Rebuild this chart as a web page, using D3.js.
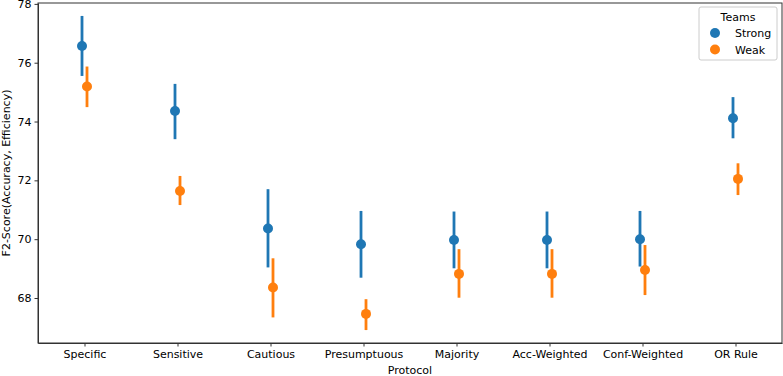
<!DOCTYPE html>
<html>
<head>
<meta charset="utf-8">
</head>
<body style="margin:0;background:#fff">
<style>
    text { font-family: "DejaVu Sans", sans-serif; fill: #000; }
    .axis path, .axis line { stroke: #333; stroke-width: 1px; }
    .axis text { font-size: 11px; }
</style>
<script src="https://cdn.jsdelivr.net/npm/d3@7"></script>
<script>

    var protocols = ["Specific", "Sensitive", "Cautious", "Presumptuous", "Majority", "Acc-Weighted", "Conf-Weighted", "OR Rule"];
    var teams = ["Strong", "Weak"];

    // point estimates and error-bar ends
    var strongMean = [76.57, 74.36, 70.36, 69.83, 69.97, 69.97, 70.00, 74.11];
    var strongLow  = [75.55, 73.40, 69.04, 68.69, 69.01, 69.01, 69.07, 73.43];
    var strongHigh = [77.59, 75.28, 71.70, 70.96, 70.94, 70.94, 70.96, 74.83];

    var weakMean = [75.19, 71.64, 68.36, 67.46, 68.82, 68.82, 68.95, 72.05];
    var weakLow  = [74.49, 71.16, 67.34, 66.91, 68.01, 68.01, 68.10, 71.50];
    var weakHigh = [75.87, 72.15, 69.35, 67.96, 69.66, 69.66, 69.80, 72.58];

    var yTicks = [68, 70, 72, 74, 76, 78];
    var colors = ["#1f77b4", "#ff7f0e"];

    var width = 783, height = 376;
    var margin = {top: 3, right: 1, bottom: 33, left: 38};

    var svg = d3.select("body").append("svg")
        .attr("width", width)
        .attr("height", height);

    var x = d3.scalePoint()
        .domain(protocols)
        .range([margin.left, width - margin.right])
        .padding(0.5);

    var y = d3.scaleLinear()
        .domain([66.47, 78.03])
        .range([height - margin.bottom, margin.top]);

    var dodge = d3.scalePoint().domain(teams).range([-2.5, 2.5]);
    var color = d3.scaleOrdinal().domain(teams).range(colors);

    var series = [
        {team: "Strong", mean: strongMean, low: strongLow, high: strongHigh},
        {team: "Weak", mean: weakMean, low: weakLow, high: weakHigh}
    ];

    series.forEach(function (s) {
        var pts = protocols.map(function (p, i) {
            return {p: p, m: s.mean[i], lo: s.low[i], hi: s.high[i]};
        });
        var g = svg.append("g").attr("fill", color(s.team)).attr("stroke", color(s.team));
        g.selectAll("line.err")
            .data(pts)
            .enter().append("line")
            .attr("class", "err")
            .attr("x1", function (d) { return x(d.p) + dodge(s.team); })
            .attr("x2", function (d) { return x(d.p) + dodge(s.team); })
            .attr("y1", function (d) { return y(d.lo); })
            .attr("y2", function (d) { return y(d.hi); })
            .attr("stroke-width", 2.8);
        g.selectAll("circle")
            .data(pts)
            .enter().append("circle")
            .attr("cx", function (d) { return x(d.p) + dodge(s.team); })
            .attr("cy", function (d) { return y(d.m); })
            .attr("r", 5)
            .attr("stroke", "none");
    });

    svg.append("g")
        .attr("class", "axis")
        .attr("transform", "translate(0," + (height - margin.bottom) + ")")
        .call(d3.axisBottom(x).tickSize(3.5).tickPadding(3.5).tickSizeOuter(0));

    svg.append("g")
        .attr("class", "axis")
        .attr("transform", "translate(" + margin.left + ",0)")
        .call(d3.axisLeft(y).tickValues(yTicks).tickSize(3.5).tickPadding(3).tickSizeOuter(0));

    // top and right spines
    svg.append("rect")
        .attr("x", margin.left)
        .attr("y", margin.top)
        .attr("width", width - margin.right - margin.left)
        .attr("height", height - margin.bottom - margin.top)
        .attr("fill", "none")
        .attr("stroke", "#333")
        .attr("stroke-width", 1);

    svg.append("text")
        .attr("x", (margin.left + width - margin.right) / 2)
        .attr("y", 374)
        .attr("text-anchor", "middle")
        .style("font-size", "11px")
        .text("Protocol");

    svg.append("text")
        .attr("transform", "translate(10," + ((margin.top + height - margin.bottom) / 2) + ") rotate(-90)")
        .attr("text-anchor", "middle")
        .style("font-size", "11px")
        .text("F2-Score(Accuracy, Efficiency)");

    // legend
    var lg = svg.append("g").attr("transform", "translate(699,7)");
    lg.append("rect")
        .attr("width", 78).attr("height", 53).attr("rx", 2)
        .attr("fill", "#fff").attr("fill-opacity", 0.8)
        .attr("stroke", "#ccc").attr("stroke-width", 1);
    lg.append("text")
        .attr("x", 39).attr("y", 14)
        .attr("text-anchor", "middle")
        .style("font-size", "11px")
        .text("Teams");
    teams.forEach(function (t, i) {
        lg.append("circle")
            .attr("cx", 16).attr("cy", 26 + i * 16.5).attr("r", 5)
            .attr("fill", color(t));
        lg.append("text")
            .attr("x", 36).attr("y", 30 + i * 16.5)
            .style("font-size", "11px")
            .text(t);
    });

</script>
</body>
</html>
